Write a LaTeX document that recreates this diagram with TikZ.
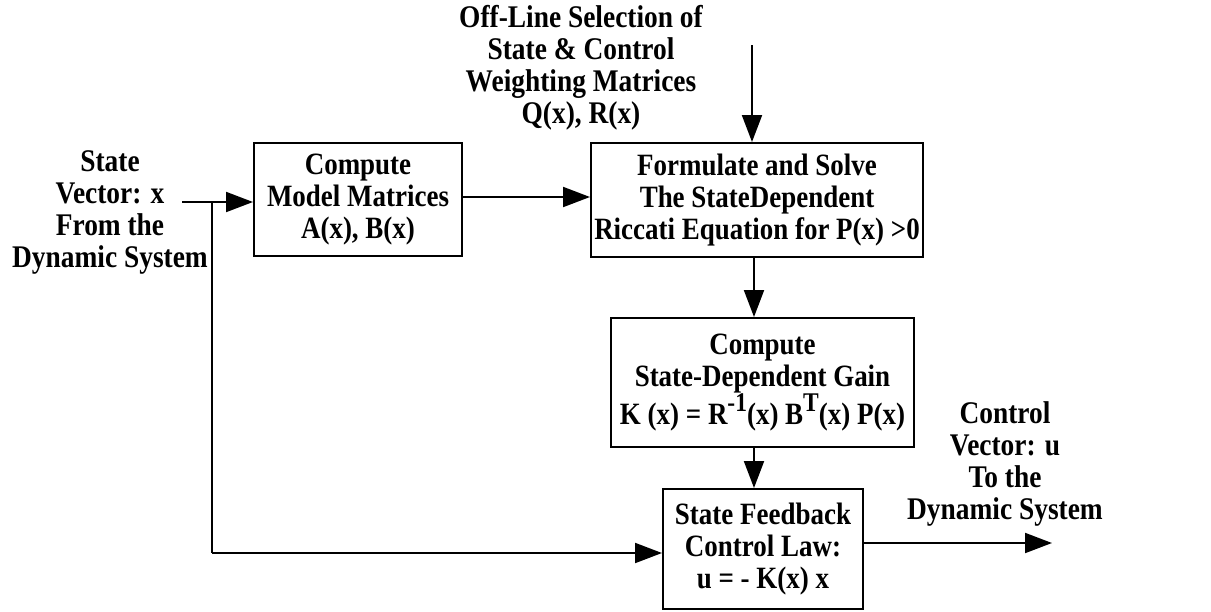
\documentclass[tikz,border=0pt]{standalone}
\usepackage{fontspec}
\setmainfont{Liberation Serif}[FakeStretch=0.87]
\usetikzlibrary{arrows.meta,calc}
\tikzset{
  lbl/.style={align=center,font=\fontsize{31.5}{32}\selectfont\bfseries,inner sep=0pt},
  blk/.style={draw,line width=2pt,align=center,font=\fontsize{31}{32}\selectfont\bfseries,inner sep=0pt},
  conn/.style={line width=2pt,-{Triangle[length=27pt,width=20pt]}},
  wire/.style={line width=2pt}
}
\newcommand{\sups}[1]{\raisebox{0.42em}{\fontsize{27}{27}\selectfont #1}}
\begin{document}
\begin{tikzpicture}[x=1pt,y=-1pt]
\useasboundingbox (0,0) rectangle (1211,611);
% blocks
\node[blk,minimum width=208pt,minimum height=113pt] (A) at (358,199.5) {Compute\\Model Matrices\\A(x), B(x)};
\node[blk,minimum width=332pt,minimum height=114pt] (B) at (757,200) {Formulate and Solve\\The StateDependent\\Riccati Equation for P(x) \textgreater0};
\node[blk,minimum width=303pt,minimum height=129pt] (C) at (762.5,382.5) {Compute\\State-Dependent Gain\\K (x) = R\sups{-1}(x) B\sups{T}(x) P(x)};
\node[blk,minimum width=200pt,minimum height=120pt] (D) at (763,549) {State Feedback\\Control Law:\\u = - K(x) x};
% labels
\node[lbl] (inl) at (110,212) {State\\Vector: x\\From the\\Dynamic System};
\node[lbl] (topl) at (581,68) {Off-Line Selection of\\State \& Control\\Weighting Matrices\\Q(x), R(x)};
\node[lbl] (outl) at (1005,464) {Control\\Vector: u\\To the\\Dynamic System};
% coordinates
\coordinate (inS) at (182,202);
\coordinate (j) at (212,202);
\coordinate (fb) at (212,553);
\coordinate (top) at (752,45);
\coordinate (col) at (754,0);
\coordinate (out) at (1052,543);
% connectors
\draw[conn] (inS) -- (inS -| A.west);
\draw[wire] (j) -- (fb);
\draw[conn] (fb) -- (fb -| D.west);
\draw[conn] (A.east |- 0,197) -- (B.west |- 0,197);
\draw[conn] (top) -- (top |- B.north);
\draw[conn] (B.south -| col) -- (C.north -| col);
\draw[conn] (C.south -| col) -- (D.north -| col);
\draw[conn] (D.east |- out) -- (out);
\end{tikzpicture}
\end{document}
